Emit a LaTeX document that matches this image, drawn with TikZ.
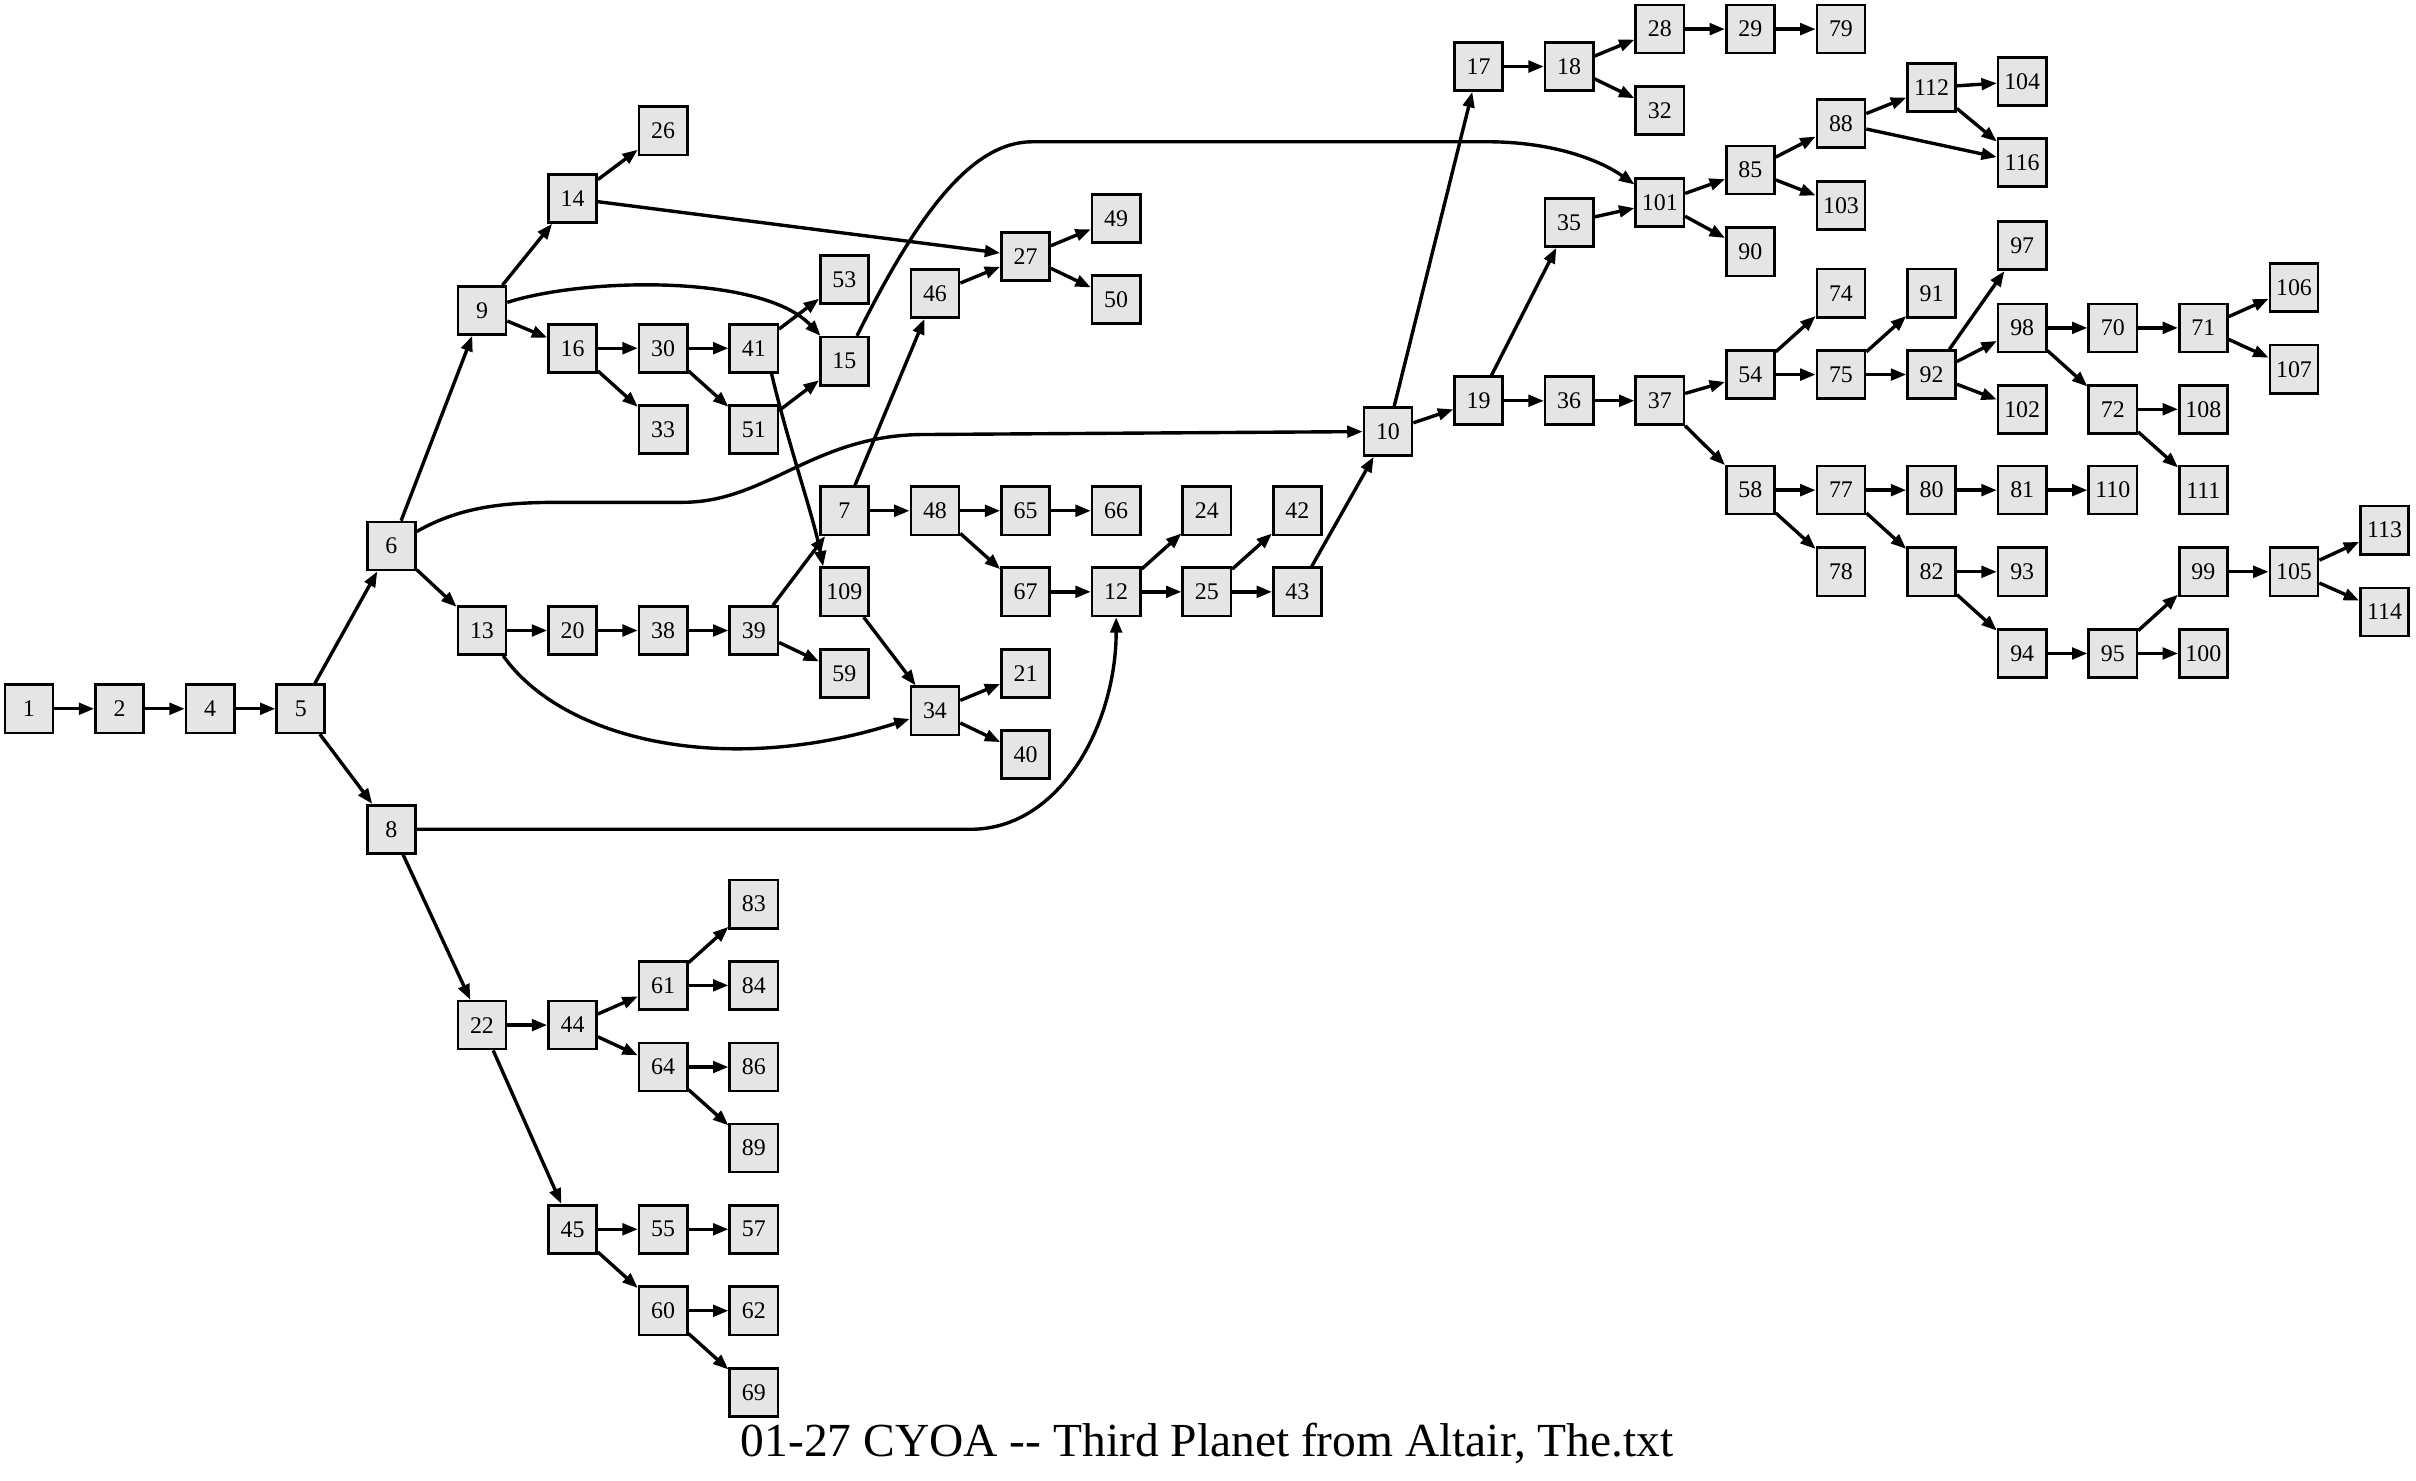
\documentclass[tikz,border=0pt]{standalone}
\usepackage{fontspec}
\setmainfont{Liberation Serif}
\usetikzlibrary{arrows.meta}
\definecolor{pagefill}{HTML}{E5E5E5}
\tikzset{
  pg/.style={draw, line width=1.7pt, fill=pagefill, minimum size=31.2pt, inner sep=0pt, font=\fontsize{15.5}{16}\selectfont},
  link/.style={-{Triangle[length=10pt,width=7.5pt]}, line width=2.2pt},
}
\begin{document}
\begin{tikzpicture}[x=1pt, y=-1pt]
    \useasboundingbox (0,0) rectangle (1568,961);
    \foreach \n/\x/\y in {1/18.8/460, 2/77.6/460, 4/136.4/460, 5/195.2/460,
        6/254/354.4, 8/254/538.2,
        9/312.8/201.5, 13/312.8/409.2, 22/312.8/665.3,
        14/371.6/128.8, 16/371.6/226, 20/371.6/409.2, 44/371.6/665.3, 45/371.6/797.8,
        26/430.4/84.9, 30/430.4/226, 33/430.4/278.8, 38/430.4/409.2, 61/430.4/639.5, 64/430.4/692.5, 55/430.4/797.8, 60/430.4/850.7,
        41/489.2/226, 51/489.2/278.8, 39/489.2/409.2, 83/489.2/586.8, 84/489.2/639.5, 86/489.2/692.5, 89/489.2/745, 57/489.2/797.8, 62/489.2/850.7, 69/489.2/903.6,
        53/548/181.4, 15/548/234.4, 7/548/331.5, 109/548/384.1, 59/548/437.1,
        46/606.8/190.5, 48/606.8/331.5, 34/606.8/461.3,
        27/665.6/166.3, 65/665.6/331.5, 67/665.6/384.1, 21/665.6/437.1, 40/665.6/489.5,
        49/724.4/141.9, 50/724.4/194.4, 66/724.4/331.5, 12/724.4/384.1,
        24/783.2/331.5, 25/783.2/384.1, 42/842/331.5, 43/842/384.1,
        10/900.8/280, 17/959.6/43.2, 19/959.6/260.1,
        18/1018.4/43.2, 35/1018.4/144.4, 36/1018.4/260.1,
        28/1077.2/18.9, 32/1077.2/71.7, 101/1077.2/131.4, 37/1077.2/260.1,
        29/1136/18.9, 85/1136/110.4, 90/1136/163.4, 54/1136/243.1, 58/1136/318.1,
        79/1194.8/18.9, 88/1194.8/80.2, 103/1194.8/133.2, 74/1194.8/190.3, 75/1194.8/243.1, 77/1194.8/318.1, 78/1194.8/371.1,
        112/1253.6/56.8, 91/1253.6/190.3, 92/1253.6/243.1, 80/1253.6/318.1, 82/1253.6/371.1,
        104/1312.4/52.9, 116/1312.4/105.5, 97/1312.4/159.5, 98/1312.4/212.8, 102/1312.4/265.6, 81/1312.4/318.1, 93/1312.4/371.1, 94/1312.4/424.1,
        70/1371.2/212.8, 72/1371.2/265.6, 110/1371.2/318.1, 95/1371.2/424.1,
        71/1430/212.8, 108/1430/265.6, 111/1430/318.1, 99/1430/371.1, 100/1430/424.1,
        106/1488.8/186.6, 107/1488.8/239.6, 105/1488.8/371.1,
        113/1547.6/344.1, 114/1547.6/397.1}
        \node[pg] (n\n) at (\x,\y) {\n};
    % straight links
    \foreach \a/\b in {1/2, 2/4, 4/5, 5/6, 5/8, 6/9, 6/13, 8/22, 9/14, 9/16, 14/26, 14/27,
        16/30, 16/33, 30/41, 30/51, 41/53, 51/15, 13/20, 20/38, 38/39, 39/7, 39/59,
        7/46, 7/48, 46/27, 27/49, 27/50, 48/65, 48/67, 65/66, 67/12, 109/34, 34/21, 34/40,
        12/24, 12/25, 25/42, 25/43, 43/10, 10/17, 10/19, 17/18, 18/28, 18/32, 28/29, 29/79,
        19/35, 19/36, 35/101, 101/85, 101/90, 85/88, 85/103, 88/112, 88/116, 112/104, 112/116,
        36/37, 37/54, 37/58, 54/74, 54/75, 75/91, 75/92, 92/97, 92/98, 92/102, 98/70, 98/72,
        70/71, 71/106, 71/107, 72/108, 72/111, 58/77, 58/78, 77/80, 77/82, 80/81, 81/110,
        82/93, 82/94, 94/95, 95/99, 95/100, 99/105, 105/113, 105/114,
        22/44, 22/45, 44/61, 44/64, 61/83, 61/84, 64/86, 64/89, 45/55, 45/60, 55/57, 60/62, 60/69}
        \draw[link] (n\a) -- (n\b);
    % long curved links
    \draw[link] (n9) .. controls (380,180) and (495,178) .. (n15);
    \draw[link] (n15) .. controls (595,140) and (630,92) .. (670,92) -- (965,92) .. controls (1010,92) and (1040,105) .. (n101);
    \draw[link] (n41.-55) .. controls (512,290) and (528,335) .. (n109.130);
    \draw[link] (n6) .. controls (300,328) and (330,326) .. (365,326) -- (443,326) .. controls (498,326) and (528,282) .. (600,282) -- (n10);
    \draw[link] (n13.-50) .. controls (365,480) and (470,505) .. (n34);
    \draw[link] (n8) -- (630,538.2) .. controls (688,538.2) and (724.4,470) .. (n12);
    \node[anchor=base, font=\fontsize{30.8}{34}\selectfont] (title) at (783.5,945.5) {01-27 CYOA {-}{-} Third Planet from Altair, The.txt};
\end{tikzpicture}
\end{document}
